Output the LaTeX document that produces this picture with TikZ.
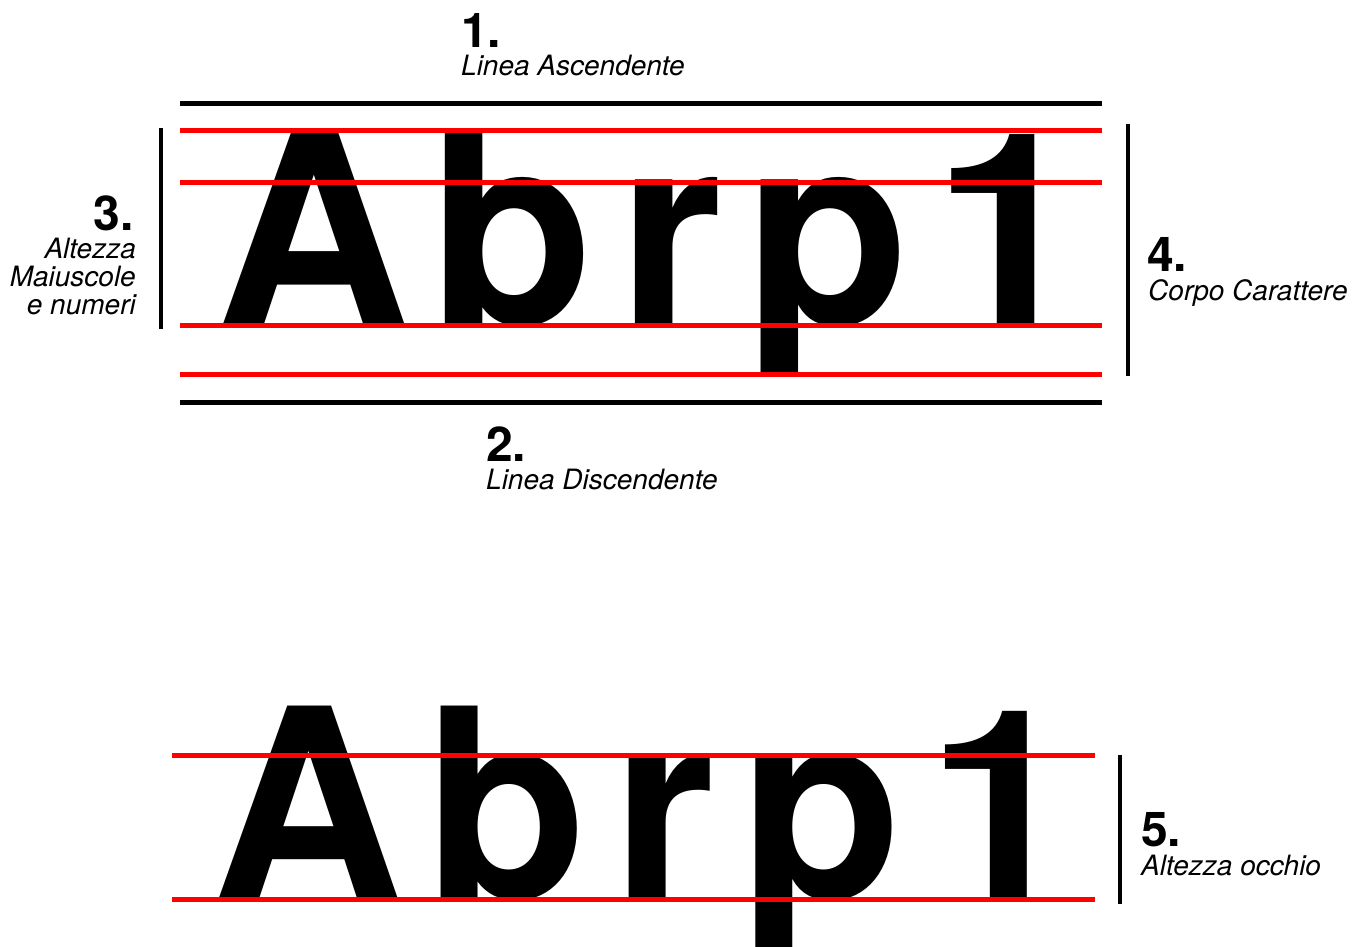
\documentclass[tikz,border=0pt]{standalone}
\usepackage{fontspec}
\setmainfont{TeX Gyre Heros}
\tikzset{
  num/.style={inner sep=0pt, anchor=base west, font=\fontsize{48}{48}\selectfont\bfseries},
  lab/.style={inner sep=0pt, anchor=base west, font=\fontsize{28}{29}\selectfont\itshape},
  big/.style={inner sep=0pt, anchor=base, font=\fontsize{268}{268}\selectfont\bfseries},
  bigl/.style={inner sep=0pt, anchor=base, font=\fontsize{264}{264}\selectfont\bfseries},
  blackline/.style={line width=5pt, black},
  redline/.style={line width=5pt, red},
  bar/.style={line width=4pt, black},
}
\begin{document}
\begin{tikzpicture}[x=1pt, y=-1pt]
\useasboundingbox (0,0) rectangle (1362,947);
% upper letters
\node[big] (uA) at (313,324) {A};
\node[big] (ub) at (511,324) {b};
\node[big] (ur) at (671,324) {r};
\begin{scope}
  \clip (700,100) rectangle (920,371);
  \node[big] (up) at (827,324) {p};
\end{scope}
\node[big] (u1) at (1008,324) {1};
% upper lines
\coordinate (asL) at (180,104); \coordinate (asR) at (1102,104);
\draw[blackline] (asL) -- (asR);
\foreach \y/\n in {131/a,182/b,325/c,374/d}{
  \coordinate (rl\n) at (180,\y); \coordinate (rr\n) at (1102,\y);
  \draw[redline] (rl\n) -- (rr\n);
}
\coordinate (dsL) at (180,402); \coordinate (dsR) at (1102,402);
\draw[blackline] (dsL) -- (dsR);
% bars
\coordinate (b3t) at (161,128); \coordinate (b3b) at (161,329);
\draw[bar] (b3t) -- (b3b);
\coordinate (b4t) at (1128,124); \coordinate (b4b) at (1128,376);
\draw[bar] (b4t) -- (b4b);
% labels
\node[num] (n1) at (461,48) {1.};
\node[lab] (t1) at (461,76) {Linea Ascendente};
\node[num] (n2) at (486,461) {2.};
\node[lab] (t2) at (486,489) {Linea Discendente};
\node[num, anchor=base east] (n3) at (134,230) {3.};
\node[lab, anchor=base east] (t3a) at (136,258) {Altezza};
\node[lab, anchor=base east] (t3b) at (136,286) {Maiuscole};
\node[lab, anchor=base east] (t3c) at (136,314) {e numeri};
\node[num] (n4) at (1147,271) {4.};
\node[lab] (t4) at (1148,300) {Corpo Carattere};
% lower letters
\node[bigl] (lA) at (308,898) {A};
\node[bigl] (lb) at (506,898) {b};
\node[bigl] (lr) at (664,898) {r};
\node[bigl] (lp) at (821.5,898) {p};
\node[bigl] (l1) at (1001,898) {1};
\foreach \y/\n in {755/e,899/f}{
  \coordinate (rl\n) at (172,\y); \coordinate (rr\n) at (1095,\y);
  \draw[redline] (rl\n) -- (rr\n);
}
\coordinate (b5t) at (1120,755); \coordinate (b5b) at (1120,904);
\draw[bar] (b5t) -- (b5b);
\node[num] (n5) at (1141,846) {5.};
\node[lab] (t5) at (1141,875) {Altezza occhio};
\end{tikzpicture}
\end{document}
